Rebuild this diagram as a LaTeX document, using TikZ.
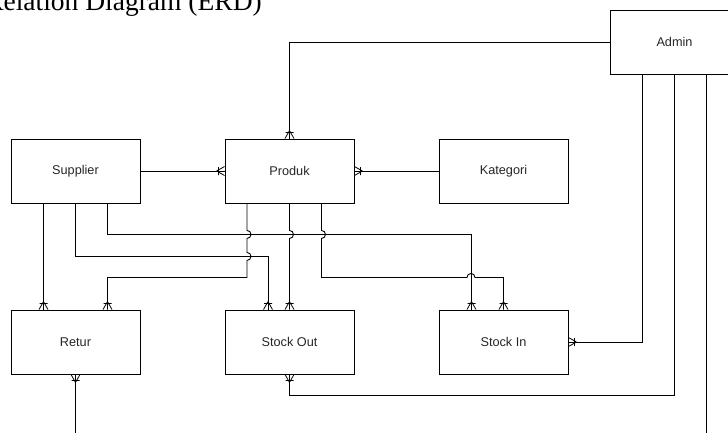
\documentclass[tikz,border=0pt]{standalone}
\usepackage{fontspec}
\setmainfont{Liberation Serif}
\setsansfont{Liberation Sans}
\usetikzlibrary{decorations.markings}

\begin{document}
\begin{tikzpicture}[x=1pt,y=1pt,line width=0.9pt,
  entity/.style={draw,minimum width=129pt,minimum height=64pt,inner sep=0pt,
    font=\sffamily\fontsize{12.7}{15}\selectfont,text=black!85},
  many/.style={postaction={decorate,decoration={markings,
    mark=at position 1 with {\draw[line width=0.8pt] (-8pt,0pt) -- (0pt,4.5pt) (-8pt,0pt) -- (0pt,-4.5pt) (-6pt,4pt) -- (-6pt,-4pt);}}}}]
\useasboundingbox (0,0) rectangle (728,-433);
\node[anchor=base west,font=\fontsize{27.5}{30}\selectfont] (title) at (-18.5,-11) {Relation Diagram (ERD)};
\node[entity] (admin) at (674.5,-42) {Admin};
\node[entity] (supplier) at (75.5,-171) {Supplier};
\node[entity] (produk) at (289.5,-171) {Produk};
\node[entity] (kategori) at (503.5,-171) {Kategori};
\node[entity] (retur) at (75.5,-342) {Retur};
\node[entity] (stockout) at (289.5,-342) {Stock Out};
\node[entity] (stockin) at (503.5,-342) {Stock In};
\coordinate (returend) at (75.5,-440);
\coordinate (adminend) at (706.5,-440);

\draw[many] (admin.west) -| (produk.north);
\draw[many] (supplier.east) -- (produk.west);
\draw[many] (kategori.west) -- (produk.east);
\draw[many] ([xshift=-32pt]supplier.south) -- ([xshift=-32pt]retur.north);
\draw[many] (supplier.south) -- ++(0,-53) -| ([xshift=-21.5pt]stockout.north);
\draw[many] ([xshift=32pt]supplier.south) -- ++(0,-31) -| ([xshift=-32pt]stockin.north);
\draw[many] ([xshift=-42.5pt]produk.south) -- ++(0,-27) arc[start angle=90,end angle=-90,radius=4]
  -- ++(0,-14) arc[start angle=90,end angle=-90,radius=4] -- ++(0,-17) -| ([xshift=32pt]retur.north);
\draw[many] (produk.south) -- ++(0,-27) arc[start angle=90,end angle=-90,radius=4] -- (stockout.north);
\draw[many] ([xshift=32pt]produk.south) -- ++(0,-27) arc[start angle=90,end angle=-90,radius=4]
  -- ++(0,-39) -- ++(145.5,0) arc[start angle=180,end angle=0,radius=4] -| (stockin.north);
\draw[many] ([xshift=-32pt]admin.south) |- (stockin.east);
\draw[many] (admin.south) -- ++(0,-321) -| (stockout.south);
\draw ([xshift=32pt]admin.south) -- (adminend);
\draw[many] (returend) -- (retur.south);
\end{tikzpicture}
\end{document}
